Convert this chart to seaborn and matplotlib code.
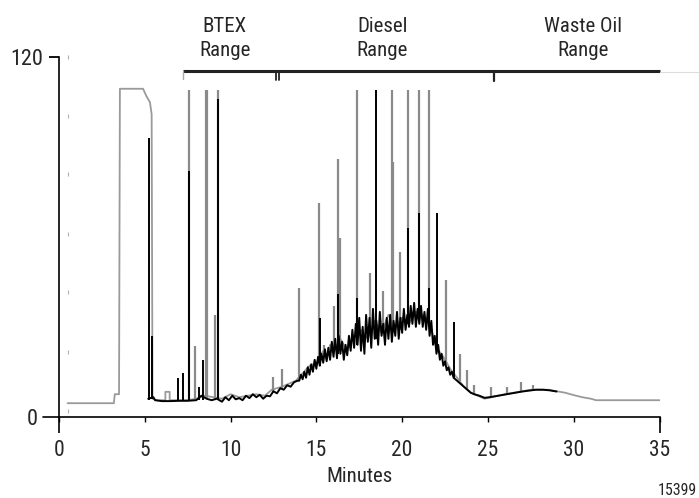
import matplotlib
matplotlib.use("Agg")
import matplotlib.pyplot as plt
import seaborn as sns

# gray trace (baseline + solvent block)
gray_time = [0.5, 3.2, 3.25, 3.5, 3.55, 4.9, 5.1, 5.3, 5.4, 5.45, 5.7, 6.2, 6.2, 6.45, 6.45,
             7.5, 8.0, 8.5, 9.0, 9.5, 10.0, 10.5, 11.0, 11.5, 12.0, 12.4, 12.7, 13.0, 13.4,
             13.8, 14.2, 14.6, 15.0, 15.4, 15.6, 15.8, 16.0, 16.4, 16.8, 17.2, 17.6, 18.0,
             18.4, 18.8, 19.2, 19.6, 20.0, 20.4, 20.8, 21.2, 21.6, 22.0, 22.4, 22.8, 23.2,
             23.6, 24.0, 24.4, 24.8, 25.2, 25.6, 26.0, 26.5, 27.0, 27.5, 28.0, 28.5, 29.0,
             29.5, 30.0, 30.5, 31.0, 31.3, 35.0]
gray_signal = [4.5, 4.5, 7.5, 7.5, 109.5, 109.5, 107, 105, 101, 6, 5.5, 5.5, 8.3, 8.3, 5.5,
               5.5, 6, 7, 6.5, 6, 7.5, 6.5, 7, 7.5, 7, 9, 9.5, 10, 11,
               12, 14.5, 17, 18, 22, 19, 24, 22, 26, 22, 27, 29, 26,
               32, 28, 34, 30, 33, 31, 35, 34, 31, 23, 20, 16, 13,
               10, 8, 7, 6, 6.5, 7, 7.5, 8, 8.5, 9, 9, 9, 8.5,
               8, 7.2, 6.5, 6, 5.5, 5.5]

# black trace (noisy hump)
black_time = [5.2, 5.5, 5.6, 6.0, 6.5, 7.0, 7.5, 8.0, 8.3, 8.6, 8.9, 9.2, 9.5, 9.7, 9.9,
              10.1, 10.3, 10.5, 10.7, 10.9, 11.1, 11.3, 11.5, 11.7, 11.9, 12.1, 12.3, 12.5,
              12.7, 12.9, 13.1, 13.3, 13.5, 13.7, 13.9,
              14.0, 14.1, 14.2, 14.3, 14.4, 14.5, 14.6, 14.7, 14.8, 14.9, 15.0, 15.1, 15.2,
              15.3, 15.4, 15.5, 15.6, 15.7, 15.8, 15.9, 16.0, 16.1, 16.2, 16.3, 16.4, 16.5,
              16.6, 16.7, 16.8, 16.9, 17.0, 17.1, 17.2, 17.3, 17.4, 17.5, 17.6, 17.7, 17.8,
              17.9, 18.0, 18.1, 18.2, 18.3, 18.4, 18.5, 18.6, 18.7, 18.8, 18.9, 19.0, 19.1,
              19.2, 19.3, 19.4, 19.5, 19.6, 19.7, 19.8, 19.9, 20.0, 20.1, 20.2, 20.3, 20.4,
              20.5, 20.6, 20.7, 20.8, 20.9, 21.0, 21.1, 21.2, 21.3, 21.4, 21.5, 21.6, 21.7,
              21.8, 21.9, 22.0, 22.1, 22.2, 22.3, 22.4, 22.5, 22.6, 22.7, 22.8, 22.9, 23.0,
              23.2, 23.4, 23.6, 23.8, 24.0, 24.2, 24.5, 24.8, 25.1, 25.4, 25.8, 26.2, 26.6,
              27.0, 27.4, 27.8, 28.2, 28.6, 29.0]
black_signal = [6, 6.5, 5.5, 5.2, 5.2, 5.3, 5.3, 5.5, 7, 6, 5.5, 6, 5, 6.5, 5.5,
                7, 5.8, 6.2, 5.5, 7, 6.2, 7.5, 6.5, 7.3, 6, 7, 6.8, 8.5,
                7.8, 9.5, 9, 10.5, 10, 11.5, 12,
                12, 14, 12.5, 15, 13, 16.5, 14, 17.5, 15, 19, 16, 20, 17,
                21, 18, 22.5, 18.5, 23, 19, 25, 20, 26, 19.5, 27, 21, 25,
                19, 24, 20.5, 27, 22, 29, 23, 31, 24, 33, 22, 30, 21,
                34, 25, 33, 23, 36, 26, 32, 24, 35, 27, 31, 24, 33,
                26, 34, 25, 32, 27, 35, 26, 33, 28, 36, 29, 34, 30,
                37, 31, 38, 30, 36, 31, 37, 30, 35, 29, 36, 27, 32,
                24, 27, 21, 24, 19, 21, 17, 18.5, 15.5, 16.5, 14, 15, 13,
                12, 11, 10, 9, 8, 7.5, 7, 6.3, 6.5, 6.8, 7.2, 7.6, 8,
                8.4, 8.7, 9, 9, 8.8, 8.4]

# peaks: retention time, foot, apex
gray_peak_time = [7.6, 7.93, 8.55, 8.63, 9.09, 9.27, 12.5, 13.0, 13.98, 15.17, 15.45, 16.0,
                  16.28, 16.35, 17.35, 18.1, 18.9, 19.39, 19.45, 19.87, 20.36, 20.98, 21.57,
                  22.56, 23.4, 23.8, 24.2, 25.2, 26.1, 26.9, 27.6]
gray_peak_foot = [5.5, 6, 6, 6, 6, 6, 8, 9, 12, 18, 20, 22,
                  22, 22, 25, 27, 28, 28, 28, 29, 31, 32, 30,
                  18, 12, 9, 7.5, 6.5, 7.5, 8.5, 9]
gray_peak_apex = [109, 23.5, 109, 109, 34, 109, 13.3, 16, 43, 71.5, 24, 37,
                  86, 59.5, 109, 48, 42, 109, 85, 55, 109, 109, 109,
                  45.5, 21, 15.5, 10.5, 10, 10, 11.7, 10.5]

black_peak_time = [5.26, 5.4, 6.95, 7.25, 7.58, 8.18, 8.37, 9.25, 15.2, 16.28, 17.37,
                   18.47, 20.36, 20.98, 21.57, 22.05, 23.02]
black_peak_foot = [5.5, 6, 5.3, 5.3, 5.5, 5.5, 5.5, 6, 17, 21, 24,
                   26, 31, 32, 30, 22, 13]
black_peak_apex = [93, 27, 13, 14.7, 82, 10, 19, 106, 33, 41, 39.5,
                   109, 63, 68, 43, 68, 31.5]

x_ticks = [0, 5, 10, 15, 20, 25, 30, 35]
ranges = ["BTEX", "Diesel", "Waste Oil"]
range_centers = [9.65, 18.85, 30.55]

sns.set_style("white")
plt.rcParams['font.family'] = ['Roboto Condensed', 'DejaVu Sans']

fig = plt.figure(figsize=(6.99, 4.98), dpi=100)
ax = fig.add_axes([0.0844, 0.1633, 0.8591, 0.7216])

sns.lineplot(x=gray_time, y=gray_signal, sort=False, estimator=None, color="#9a9a9a",
             lw=1.3, ax=ax)
ax.vlines(gray_peak_time, gray_peak_foot, gray_peak_apex, color="#8a8a8a", lw=1.6)
sns.lineplot(x=black_time, y=black_signal, sort=False, estimator=None, color="black",
             lw=1.4, ax=ax)
ax.vlines(black_peak_time, black_peak_foot, black_peak_apex, color="black", lw=1.4)

# faint inner marks
ax.scatter([0.5] * 7, [2, 21.5, 41.5, 61, 81, 100.5, 120], marker="|", s=6,
           color="#b0b0b0", lw=0.8, clip_on=False)

# range bar on top
ax.plot([7.23, 35], [115.5, 115.5], color="#222222", lw=2.2, clip_on=False,
        solid_capstyle="butt")
ax.plot([7.23, 7.23], [115.5, 112.8], color="#aaaaaa", lw=1, clip_on=False)
ax.plot([12.62, 12.62], [115.5, 112.3], color="#222222", lw=1.3, clip_on=False)
ax.plot([12.8, 12.8], [115.5, 112.3], color="#222222", lw=1.3, clip_on=False)
ax.plot([25.35, 25.35], [115.5, 112.0], color="#222222", lw=1.6, clip_on=False)
ax.plot([35, 37.3], [115.0, 115.0], color="#dddddd", lw=0.8, clip_on=False)
for name, c in zip(ranges, range_centers):
    ax.text(c, 128.3, name, ha="center", va="baseline", fontsize=15, clip_on=False)
    ax.text(c, 120.6, "Range", ha="center", va="baseline", fontsize=15, clip_on=False)

ax.set_xlim(0, 35)
ax.set_ylim(0, 120)
for s in ["top", "right"]:
    ax.spines[s].set_visible(False)
for s in ["left", "bottom"]:
    ax.spines[s].set_color("black")
    ax.spines[s].set_linewidth(1.2)
ax.plot([-0.93, 0], [0, 0], color="black", lw=1.2, clip_on=False)

ax.set_xticks(x_ticks)
ax.set_xticklabels([str(t) for t in x_ticks], fontsize=15.5)
ax.set_xticks([0, 35], minor=True)
ax.xaxis.remove_overlapping_locs = False
ax.tick_params(axis="x", which="major", direction="out", length=3.6, width=1,
               pad=13.5, bottom=True, color="black")
ax.tick_params(axis="x", which="minor", direction="out", length=11.5, width=1.2,
               bottom=True, color="black")

ax.set_yticks([120])
ax.set_yticklabels(["120"], fontsize=16)
ax.set_yticks([0], minor=True)
ax.set_yticklabels(["0"], minor=True, fontsize=16)
ax.yaxis.remove_overlapping_locs = False
ax.tick_params(axis="y", which="major", direction="out", length=7.2, width=1.3,
               pad=4, left=True, color="black")
ax.tick_params(axis="y", which="minor", direction="out", length=0, width=1.2,
               pad=15, left=True, color="black", labelsize=16)

fig.text(359 / 699, 1 - 481.7 / 498, "Minutes", ha="center", va="baseline", fontsize=15)
fig.text(0.997, 1 - 495 / 498, "15399", ha="right", va="baseline", fontsize=11.5)

fig.savefig("out.png", dpi=100)
